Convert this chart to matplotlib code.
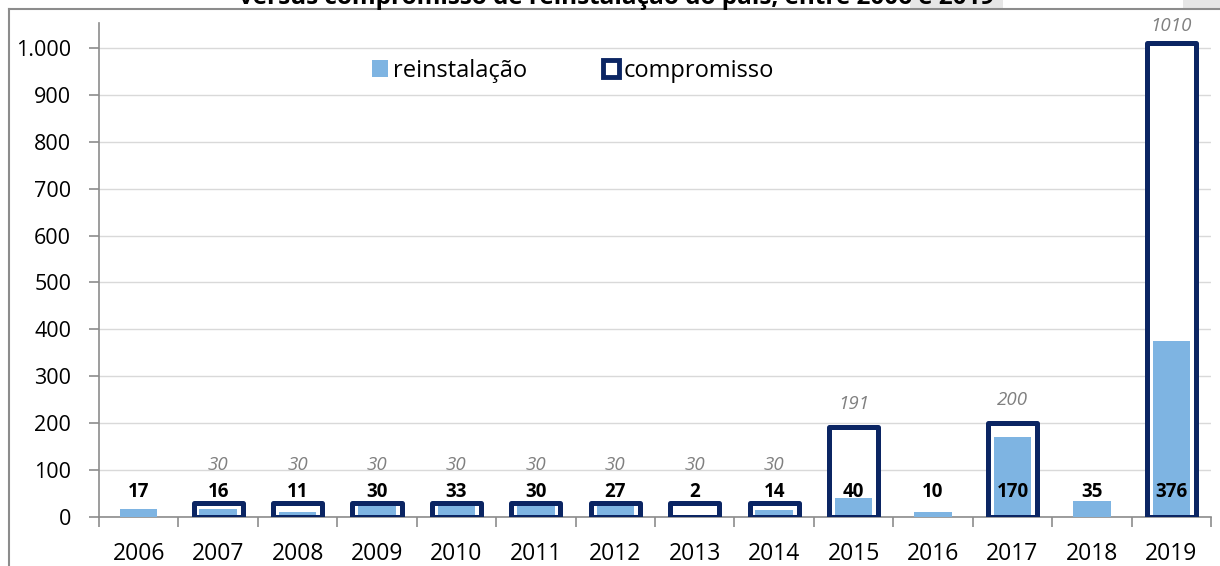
import numpy as np
import matplotlib
matplotlib.use("Agg")
import matplotlib.pyplot as plt
from matplotlib.patches import Patch, Rectangle
from matplotlib.lines import Line2D

years = ["2006", "2007", "2008", "2009", "2010", "2011", "2012",
         "2013", "2014", "2015", "2016", "2017", "2018", "2019"]
reinstalacao = [17, 16, 11, 30, 33, 30, 27, 2, 14, 40, 10, 170, 35, 376]
compromisso = [None, 30, 30, 30, 30, 30, 30, 30, 30, 191, None, 200, None, 1010]
yticks = [0, 100, 200, 300, 400, 500, 600, 700, 800, 900, 1000]
ytick_labels = ["0", "100", "200", "300", "400", "500", "600", "700", "800", "900", "1.000"]
title = "versus compromisso de reinstalação do país, entre 2006 e 2019"

LIGHT = "#7EB4E2"
NAVY = "#0B2563"
GREY_TXT = "#808080"
SPINE = "#8C8C8C"
GRID = "#D9D9D9"

plt.rcParams['font.family'] = ['Open Sans', 'DejaVu Sans']

fig = plt.figure(figsize=(12.2, 5.66), dpi=100)
W, H = 1220, 566
ax = fig.add_axes([99 / W, 1 - 517 / H, (1211 - 99) / W, (517 - 23) / H])

x = np.arange(len(years))
cx = [i for i, v in enumerate(compromisso) if v is not None]
cv = [v for v in compromisso if v is not None]

# compromisso boxes (white fill behind)
ax.bar(cx, cv, width=0.62, color="white", edgecolor="none", zorder=2)
# reinstalação bars
ax.bar(x, reinstalacao, width=0.47, color=LIGHT, edgecolor="none", zorder=3)
# compromisso outlines on top
ax.bar(cx, cv, width=0.62, facecolor="none", edgecolor=NAVY, linewidth=3.6,
       joinstyle="round", zorder=4)

# bold labels for reinstalação
for i, v in enumerate(reinstalacao):
    ax.text(i, 53, str(v), ha="center", va="center", fontsize=13.5,
            fontweight="bold", color="black", zorder=6)

# italic grey labels for compromisso
for i, v in zip(cx, cv):
    off = 38 if v < 100 else (23 if v < 1000 else 17)
    ax.annotate(str(v), (i, v), xytext=(0, off * 0.72), textcoords="offset points",
                ha="center", va="center", fontsize=13.5, fontstyle="italic",
                color=GREY_TXT, annotation_clip=False, zorder=6)

ax.set_xlim(-0.5, len(years) - 0.5)
ax.set_ylim(0, 1053)
ax.set_yticks(yticks)
ax.set_yticklabels(ytick_labels, fontsize=15.5)
ax.yaxis.grid(True, color=GRID, linewidth=1.0, zorder=0)
ax.set_axisbelow(True)

ax.set_xticks(x)
ax.set_xticklabels(years, fontsize=16.5)
ax.set_xticks(np.arange(-0.5, len(years), 1.0), minor=True)
ax.tick_params(axis="x", which="major", length=0, pad=18)
ax.tick_params(axis="x", which="minor", length=7, width=1.2, color=SPINE)
ax.tick_params(axis="y", length=7, width=1.2, color=SPINE, pad=13)

for s in ["top", "right"]:
    ax.spines[s].set_visible(False)
for s in ["left", "bottom"]:
    ax.spines[s].set_color(SPINE)
    ax.spines[s].set_linewidth(1.2)

handles = [Patch(facecolor=LIGHT, edgecolor="none"),
           Patch(facecolor="white", edgecolor=NAVY, linewidth=3.5)]
fig.legend(handles, ["reinstalação", "compromisso"], loc="center",
           bbox_to_anchor=(573 / W, 1 - 71 / H), ncol=2, frameon=False,
           fontsize=17, handlelength=0.7, handleheight=0.7,
           handletextpad=0.2, columnspacing=3.2)

# title (cut off at top, as in the reference)
fig.patches.append(Rectangle((910 / W, 1 - 8 / H), 93 / W, 8 / H,
                             transform=fig.transFigure, facecolor="#E6E6E6",
                             edgecolor="none", zorder=0))
fig.patches.append(Rectangle((1183 / W, 1 - 8 / H), 37 / W, 8 / H,
                             transform=fig.transFigure, facecolor="#E6E6E6",
                             edgecolor="none", zorder=0))
fig.text(617 / W, 1 - 4 / H, title, ha="center", va="baseline",
         fontsize=17.5, fontweight="bold", color="black")

# outer frame lines
fig.add_artist(Line2D([9 / W, 1], [1 - 8.5 / H, 1 - 8.5 / H],
                      transform=fig.transFigure, color=SPINE, linewidth=1.5))
fig.add_artist(Line2D([9 / W, 9 / W], [0, 1 - 8.5 / H],
                      transform=fig.transFigure, color=SPINE, linewidth=1.5))

fig.savefig("out.png", dpi=100)
